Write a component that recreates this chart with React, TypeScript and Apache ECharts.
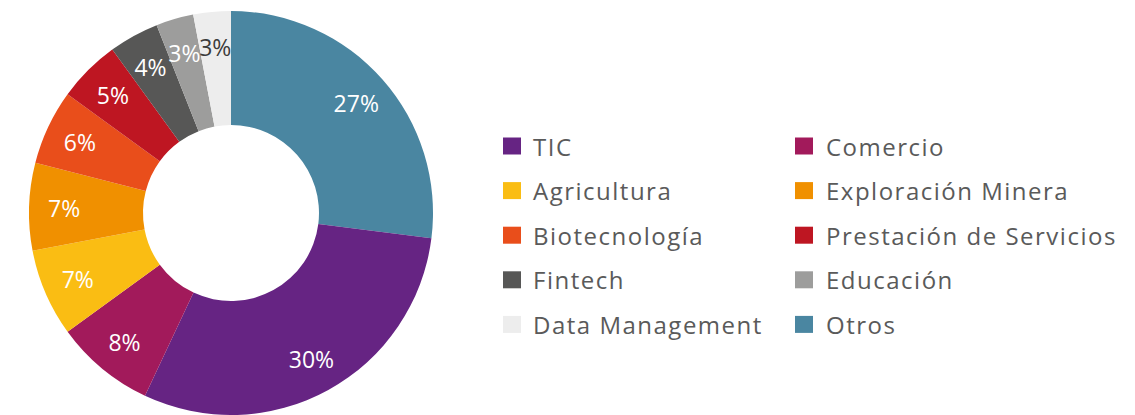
import React, { useEffect, useRef } from "react";
import * as echarts from "echarts";

// Data (clockwise from 12 o'clock)
const categories = [
  "Otros",
  "TIC",
  "Comercio",
  "Agricultura",
  "Exploración Minera",
  "Biotecnología",
  "Prestación de Servicios",
  "Fintech",
  "Educación",
  "Data Management",
];
const values = [27, 30, 8, 7, 7, 6, 5, 4, 3, 3];

const legendLeft = ["TIC", "Agricultura", "Biotecnología", "Fintech", "Data Management"];
const legendRight = ["Comercio", "Exploración Minera", "Prestación de Servicios", "Educación", "Otros"];

const palette: Record<string, string> = {
  Otros: "#4a86a1",
  TIC: "#662483",
  Comercio: "#a21a5b",
  Agricultura: "#fabd13",
  "Exploración Minera": "#f09000",
  Biotecnología: "#e94e1b",
  "Prestación de Servicios": "#be1622",
  Fintech: "#575756",
  Educación: "#9d9d9c",
  "Data Management": "#ededed",
};

export default function App() {
  const ref = useRef<HTMLDivElement>(null);

  useEffect(() => {
    if (!ref.current) return;
    const chart = echarts.init(ref.current, undefined, { renderer: "svg" });
    const legendFont = "'Open Sans', sans-serif";
    const legendBase = {
      orient: "vertical" as const,
      top: 134,
      itemGap: 20.6,
      itemWidth: 18,
      itemHeight: 17,
      padding: 0,
      icon: "rect",
      selectedMode: false,
      textStyle: {
        color: "#5a5a5a",
        fontSize: 24,
        fontFamily: legendFont,
        lineHeight: 24,
        padding: [0, 0, 0, 7],
      },
    };
    chart.setOption({
      animation: false,
      legend: [
        { ...legendBase, left: 503, data: legendLeft },
        { ...legendBase, left: 795, data: legendRight, textStyle: { ...legendBase.textStyle, padding: [0, 0, 0, 8] } },
      ],
      series: [
        {
          type: "pie",
          center: [231, 213],
          radius: [88, 202],
          startAngle: 90,
          clockwise: true,
          avoidLabelOverlap: false,
          silent: true,
          label: { show: false },
          labelLine: { show: false },
          emphasis: { disabled: true },
          itemStyle: { borderWidth: 0 },
          data: categories.map((name, i) => ({
            name,
            value: values[i],
            itemStyle: { color: palette[name] },
          })),
        },
        {
          type: "pie",
          center: [231, 213],
          radius: [126, 202],
          startAngle: 90,
          clockwise: true,
          avoidLabelOverlap: false,
          silent: true,
          emphasis: { disabled: true },
          itemStyle: { color: "rgba(0,0,0,0)", borderWidth: 0 },
          labelLayout: { hideOverlap: false },
          label: {
            show: true,
            position: "inside",
            formatter: "{c}%",
            fontSize: 23,
            fontFamily: "'Open Sans'",
            color: "#ffffff",
          },
          labelLine: { show: false },
          data: categories.map((name, i) => ({
            name,
            value: values[i],
            label: name === "Data Management" ? { color: "#3c3c3b" } : undefined,
          })),
        },
      ],
    });
    return () => chart.dispose();
  }, []);

  return (
    <>
      <style>{`.pie-chart text[style*="sans-serif"] { letter-spacing: 1.5px; }`}</style>
      <div
        ref={ref}
        className="pie-chart"
        style={{ position: "fixed", left: 0, top: 0, width: 1135, height: 415, background: "#ffffff" }}
      />
    </>
  );
}
